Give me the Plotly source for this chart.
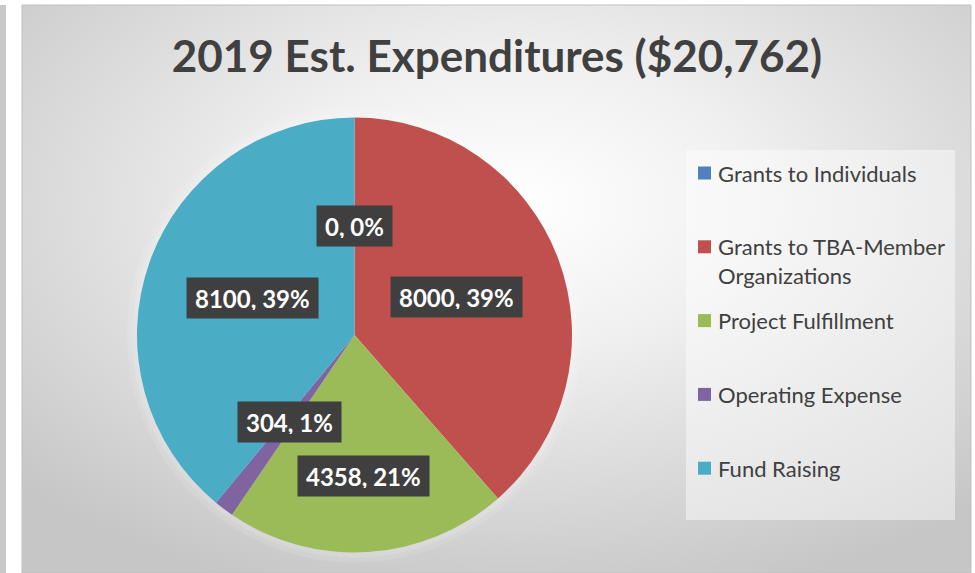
import math
import base64
import textwrap
import plotly.graph_objects as go

# ---- data ----
categories = ["Grants to Individuals", "Grants to TBA-Member Organizations",
              "Project Fulfillment", "Operating Expense", "Fund Raising"]
values = [0, 8000, 4358, 304, 8100]
title_text = "2019 Est. Expenditures ($20,762)"

# ---- style ----
colors = ["#4F81BD", "#C0504D", "#9BBB59", "#8064A2", "#4BACC6"]
label_radius = [0.50, 0.50, 0.65, 0.50, 0.50]   # label placement (fraction of radius)
W, H = 975, 573
CX, CY, R = 354.5, 335, 217.5
TXT = "#404040"
FONT = "Lato"


def fx(x):
    return x / W


def fy(y):
    return 1 - y / H


total = sum(values)

fig = go.Figure()
fig.add_trace(go.Pie(
    labels=categories,
    values=values,
    sort=False,
    direction="clockwise",
    rotation=0,
    textinfo="none",
    marker=dict(colors=colors, line=dict(width=0)),
    domain=dict(x=[fx(CX - R), fx(CX + R)], y=[fy(CY + R), fy(CY - R)]),
    hoverinfo="label+value+percent",
    showlegend=False,
))

annotations = []
shapes = []

# data labels positioned from the slice angles
cum = 0
for v, f in zip(values, label_radius):
    frac = (cum + v / 2) / total
    cum += v
    th = 2 * math.pi * frac
    px = CX + R * f * math.sin(th)
    py = CY - R * f * math.cos(th)
    pct = round(100 * v / total)
    annotations.append(dict(
        x=fx(px), y=fy(py), xref="paper", yref="paper",
        text=f"<b>{v}, {pct}%</b>", showarrow=False,
        font=dict(family=FONT, size=24, color="white"),
        bgcolor="#3f3f3f", borderpad=8, height=24, valign="middle",
        xanchor="center", yanchor="middle",
    ))

# legend (built from the category / colour lists)
LEG_X_SQ, LEG_X_TXT, LEG_Y0, LEG_STEP, LEG_LH = 698, 716, 173, 73.8, 28.6
shapes.append(dict(type="rect", xref="paper", yref="paper", x0=fx(686), x1=fx(955),
                   y0=fy(520), y1=fy(150), fillcolor="rgba(255,255,255,0.45)",
                   line=dict(width=0), layer="below"))
for i, (c, col) in enumerate(zip(categories, colors)):
    yc = LEG_Y0 + i * LEG_STEP
    lines = textwrap.wrap(c, 21)
    shapes.append(dict(type="rect", xref="paper", yref="paper",
                       x0=fx(LEG_X_SQ), x1=fx(LEG_X_SQ + 13), y0=fy(yc + 6.5), y1=fy(yc - 6.5),
                       fillcolor=col, line=dict(width=0)))
    annotations.append(dict(
        x=fx(LEG_X_TXT), y=fy(yc + (len(lines) - 1) * LEG_LH / 2), xref="paper", yref="paper",
        text="<br>".join(lines), showarrow=False, align="left",
        font=dict(family=FONT, size=22, color=TXT),
        xanchor="left", yanchor="middle",
    ))

# chart area background: radial gradient
svg = ('<svg xmlns="http://www.w3.org/2000/svg" width="100" height="100" '
       'viewBox="0 0 100 100" preserveAspectRatio="none">'
       '<defs><radialGradient id="g" cx="0.52" cy="0.35" r="0.72">'
       '<stop offset="0" stop-color="#ffffff"/>'
       '<stop offset="0.35" stop-color="#f0f0f0"/>'
       '<stop offset="1" stop-color="#c6c6c6"/>'
       '</radialGradient></defs>'
       '<rect x="0" y="0" width="100" height="100" fill="url(#g)"/></svg>')
src = "data:image/svg+xml;base64," + base64.b64encode(svg.encode()).decode()

x0c, x1c, y0c = 22, 971, 5
images = [dict(source=src, xref="paper", yref="paper",
               x=fx(x0c), y=fy(y0c), sizex=(x1c - x0c) / W, sizey=(H - y0c) / H,
               xanchor="left", yanchor="top", sizing="stretch", layer="below")]

shapes += [
    dict(type="rect", xref="paper", yref="paper", x0=0, x1=fx(6), y0=0, y1=fy(5),
         fillcolor="#c8c8c8", line=dict(width=0), layer="below"),
    dict(type="rect", xref="paper", yref="paper", x0=fx(x0c), x1=fx(x1c), y0=0, y1=fy(y0c),
         fillcolor="rgba(0,0,0,0)", line=dict(color="#c0c0c0", width=1), layer="below"),
    dict(type="circle", xref="paper", yref="paper",
         x0=fx(CX - R - 10), x1=fx(CX + R + 10), y0=fy(CY + R + 10), y1=fy(CY - R - 10),
         fillcolor="rgba(255,255,255,0.10)", line=dict(width=0), layer="below"),
    dict(type="circle", xref="paper", yref="paper",
         x0=fx(CX - R - 5), x1=fx(CX + R + 5), y0=fy(CY + R + 5), y1=fy(CY - R - 5),
         fillcolor="rgba(255,255,255,0.12)", line=dict(width=0), layer="below"),
]

fig.update_layout(
    width=W, height=H,
    margin=dict(l=0, r=0, t=0, b=0, autoexpand=False),
    paper_bgcolor="white", plot_bgcolor="rgba(0,0,0,0)",
    title=dict(text=f"<b>{title_text}</b>", x=fx(497), y=fy(57),
               xanchor="center", yanchor="middle",
               font=dict(family=FONT, size=44, color=TXT)),
    showlegend=False,
    annotations=annotations,
    images=images,
    shapes=shapes,
)

fig.write_html("out.html", config={"displayModeBar": False},
               post_script="document.body.style.margin='0';")
